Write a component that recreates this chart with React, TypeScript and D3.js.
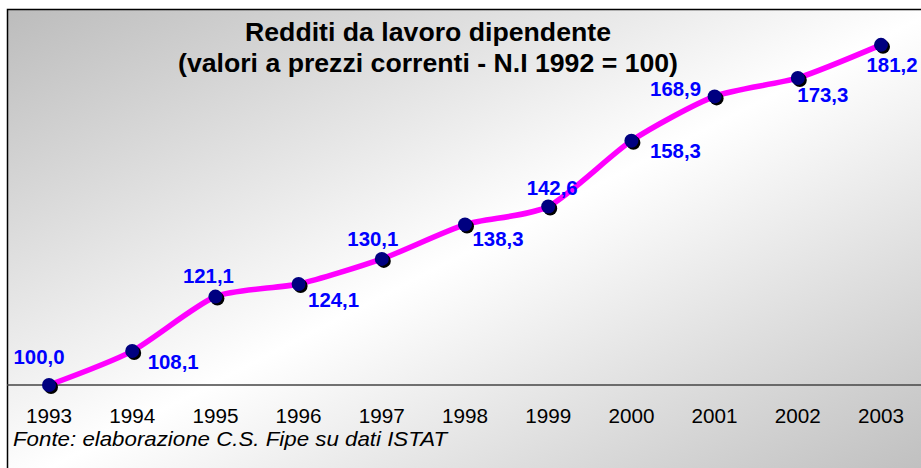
import React from "react";
import * as d3 from "d3";

const years = [1993, 1994, 1995, 1996, 1997, 1998, 1999, 2000, 2001, 2002, 2003];
const values = [100.0, 108.1, 121.1, 124.1, 130.1, 138.3, 142.6, 158.3, 168.9, 173.3, 181.2];
const valueLabels = ["100,0", "108,1", "121,1", "124,1", "130,1", "138,3", "142,6", "158,3", "168,9", "173,3", "181,2"];
const titleLines = ["Redditi da lavoro dipendente", "(valori a prezzi correnti - N.I 1992 = 100)"];
const sourceNote = "Fonte: elaborazione C.S. Fipe su dati ISTAT";

// label placement (dx = label centre offset, dy = baseline offset from marker)
const labelOffsets: [number, number][] = [
  [-10, -21], [41, 18], [-7, -14], [35, 23], [-9, -13], [33, 21],
  [4, -12], [44, 17], [-39, 0], [25, 24], [11, 27],
];

const W = 921;
const H = 468;

export default function App() {
  const x = d3.scaleLinear().domain([1993, 2003]).range([49, 881]);
  const y = d3.scaleLinear().domain([100, 190]).range([385, 8]);
  const pts = years.map((yr, i) => [x(yr), y(values[i])] as [number, number]);
  const line = d3.line().curve(d3.curveCardinal.tension(0.3))(pts) || "";

  return (
    <svg
      width={W}
      height={H}
      style={{ position: "absolute", left: 0, top: 0, background: "#ffffff" }}
      fontFamily="Arial, 'Liberation Sans', sans-serif"
    >
      <defs>
        <linearGradient id="bg" x1="0" y1="0" x2="1" y2="1">
          <stop offset="0" stopColor="#bcbcbc" />
          <stop offset="0.5" stopColor="#ffffff" />
          <stop offset="1" stopColor="#bcbcbc" />
        </linearGradient>
      </defs>
      <rect x={7.5} y={9.5} width={930} height={480} fill="url(#bg)" stroke="#000" strokeWidth={1.5} />
      <line x1={7} x2={W} y1={y(100)} y2={y(100)} stroke="#444" strokeWidth={1.5} />

      <text x={428} y={41} textAnchor="middle" fontSize={25} fontWeight="bold" fill="#000" textLength={366} lengthAdjust="spacingAndGlyphs">
        {titleLines[0]}
      </text>
      <text x={428} y={72} textAnchor="middle" fontSize={25} fontWeight="bold" fill="#000" textLength={500} lengthAdjust="spacingAndGlyphs">
        {titleLines[1]}
      </text>

      <path d={line} fill="none" stroke="#ff00ff" strokeWidth={5.5} strokeLinejoin="round" />

      {pts.map(([px, py], i) => (
        <g key={i}>
          <circle cx={px + 2} cy={py + 2} r={7} fill="#000" />
          <circle cx={px} cy={py} r={7} fill="#000080" />
        </g>
      ))}

      {pts.map(([px, py], i) => (
        <text
          key={"l" + i}
          x={px + labelOffsets[i][0]}
          y={py + labelOffsets[i][1]}
          textAnchor="middle"
          fontSize={21}
          fontWeight="bold"
          fill="#0000ff"
          textLength={51}
          lengthAdjust="spacingAndGlyphs"
        >
          {valueLabels[i]}
        </text>
      ))}

      {years.map((yr) => (
        <text key={yr} x={x(yr)} y={423} textAnchor="middle" fontSize={20.5} fill="#000" textLength={46} lengthAdjust="spacingAndGlyphs">
          {yr}
        </text>
      ))}

      <text x={13} y={446} fontSize={21} fontStyle="italic" fill="#000" textLength={434} lengthAdjust="spacingAndGlyphs">
        {sourceNote}
      </text>
    </svg>
  );
}
